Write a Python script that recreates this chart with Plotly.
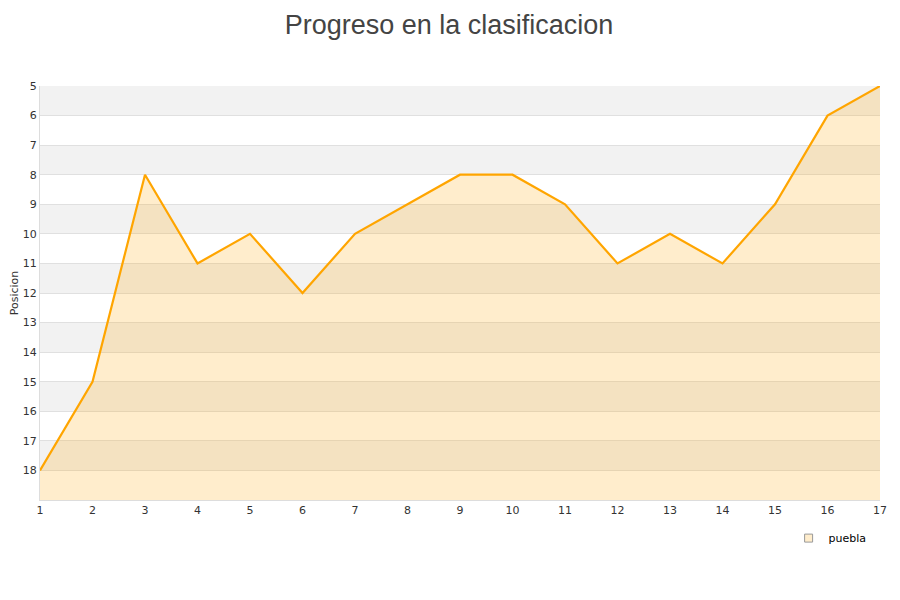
import plotly.graph_objects as go

jornadas = list(range(1, 18))
posicion = [18, 15, 8, 11, 10, 12, 10, 9, 8, 8, 9, 11, 10, 11, 9, 6, 5]
equipo = "puebla"
y_ticks = list(range(5, 19))
y_min, y_max = 5, 19

fig = go.Figure()

# franjas alternas de fondo
for t in y_ticks:
    if t % 2 == 1:
        fig.add_shape(type="rect", xref="paper", yref="y", x0=0, x1=1, y0=t, y1=t + 1,
                      fillcolor="#f2f2f2", line_width=0, layer="below")

# linea base para rellenar hasta abajo
fig.add_trace(go.Scatter(x=jornadas, y=[y_max] * len(jornadas), mode="lines",
                         line=dict(width=0), showlegend=False, hoverinfo="skip"))

fig.add_trace(go.Scatter(
    x=jornadas, y=posicion, mode="lines", name=equipo,
    line=dict(color="#ffa500", width=2.2),
    fill="tonexty", fillcolor="rgba(255,165,0,0.2)",
    showlegend=False,
))

# entrada de leyenda
fig.add_trace(go.Scatter(
    x=[None], y=[None], mode="markers", name=equipo,
    marker=dict(symbol="square", size=8, color="#ffedcc",
                line=dict(color="#999999", width=1)),
))

fig.update_layout(
    width=900, height=600,
    paper_bgcolor="white", plot_bgcolor="white",
    margin=dict(l=32, r=28, t=78, b=108),
    title=dict(text="Progreso en la clasificacion", x=0.49, xanchor="center",
               y=0.972, yanchor="middle",
               font=dict(family="Liberation Sans, Arial", size=27, color="#444444")),
    font=dict(family="DejaVu Sans, Verdana", size=11, color="#444444"),
    xaxis=dict(range=[1, 17], tickvals=jornadas, showgrid=False, zeroline=False,
               showline=True, linecolor="#dddddd", linewidth=1, ticks="",
               tickfont=dict(size=11, color="#333333")),
    yaxis=dict(range=[y_max, y_min], tickvals=y_ticks, showgrid=True,
               gridcolor="#e0e0e0", gridwidth=1, zeroline=False, automargin=False,
               showline=True, linecolor="#dddddd", linewidth=1, ticks="",
               title=dict(text="Posicion", font=dict(size=11, color="#333333"), standoff=4),
               tickfont=dict(size=11, color="#333333")),
    legend=dict(x=0.99, xanchor="right", y=-0.057, yanchor="top",
                font=dict(size=11, color="#000000"), bgcolor="rgba(0,0,0,0)"),
)

fig.write_html("out.html")
